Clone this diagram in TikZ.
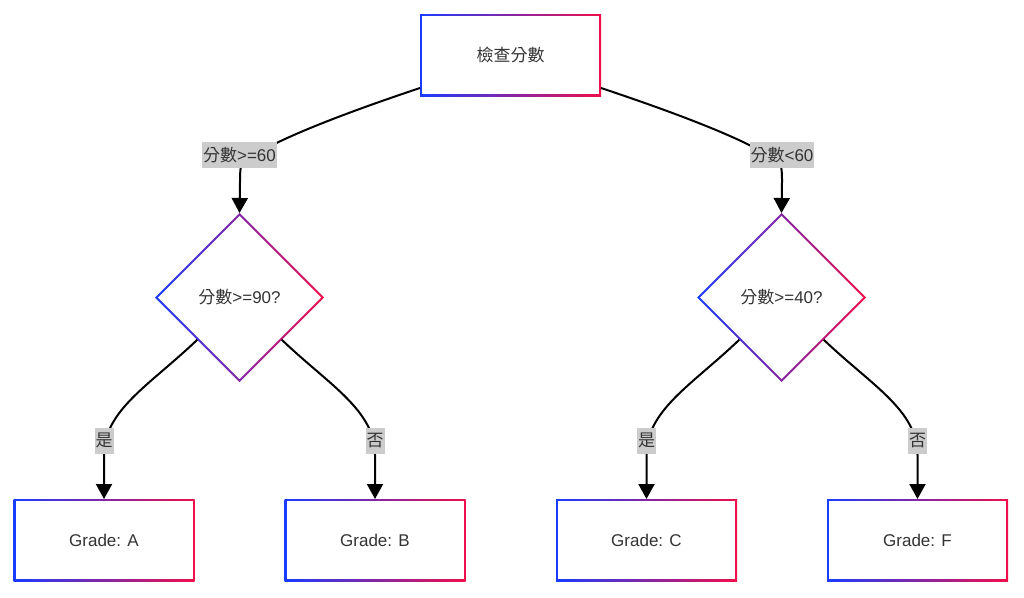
\documentclass[tikz,border=0pt]{standalone}
\usepackage{fontspec}
\setmainfont{Liberation Sans}
\newfontfamily\cjk{Noto Sans CJK TC}
\usetikzlibrary{shapes.geometric,arrows.meta,calc}
\definecolor{gblue}{RGB}{25,60,255}
\definecolor{gred}{RGB}{240,15,75}
\definecolor{txt}{RGB}{51,51,51}
\definecolor{lblbg}{RGB}{204,204,204}
\tikzset{
 gradout/.style={left color=gblue,right color=gred,draw=none,inner sep=0pt,outer sep=0pt},
 boxout/.style={gradout,rectangle,minimum width=181pt,minimum height=82pt},
 boxin/.style={rectangle,fill=white,minimum width=177pt,minimum height=78pt,inner sep=0pt,outer sep=0pt,text=txt,font=\fontsize{17}{20}\selectfont},
 dout/.style={gradout,diamond,aspect=1,minimum width=169pt,minimum height=169pt},
 din/.style={diamond,aspect=1,fill=white,minimum width=163pt,minimum height=163pt,inner sep=0pt,outer sep=0pt,text=txt,font=\fontsize{17}{20}\selectfont},
 lbl/.style={fill=lblbg,text=txt,font=\fontsize{17}{20}\selectfont,inner xsep=1pt,inner ysep=0pt,minimum height=26pt},
 edge/.style={draw=black,line width=2pt,-{Triangle[length=15pt,width=16pt]}}
}
\begin{document}
\begin{tikzpicture}[x=1pt,y=-1pt]
\fill[white] (0,0) rectangle (1024,597);
\useasboundingbox (0,0) rectangle (1024,597);
% nodes
\node[boxout] (top) at (510.5,55) {};
\node[boxin] (topin) at (top) {\cjk 檢查分數};
\node[dout] (d1) at (239.5,297.5) {};
\node[din] (d1in) at (d1) {{\cjk 分數}>=90?};
\node[dout] (d2) at (781.5,297.5) {};
\node[din] (d2in) at (d2) {{\cjk 分數}>=40?};
\node[boxout] (ga) at (104,540) {};
\node[boxin] (gain) at (ga) {Grade: A};
\node[boxout] (gb) at (375,540) {};
\node[boxin] (gbin) at (gb) {Grade: B};
\node[boxout] (gc) at (646.5,540) {};
\node[boxin] (gcin) at (gc) {Grade: C};
\node[boxout] (gf) at (917.5,540) {};
\node[boxin] (gfin) at (gf) {Grade: F};
% edges
\coordinate (s1) at ($(top.south west)+(0,-8)$);
\coordinate (s2) at ($(top.south east)+(0,-8)$);
\draw[edge] (s1) .. controls (330,118) and (255,148) .. (241,166) .. controls (240,172) and (240,176) .. (240,182) -- (d1.north);
\draw[edge] (s2) .. controls (691,118) and (767,148) .. (781,166) .. controls (782,172) and (782,176) .. (782,182) -- (d2.north);
\draw[edge] (d1.south west) .. controls (150,385) and (104,410) .. (104,455) -- (ga.north);
\draw[edge] (d1.south east) .. controls (329,385) and (375,410) .. (375,455) -- (gb.north);
\draw[edge] (d2.south west) .. controls (692,385) and (646.5,410) .. (646.5,455) -- (gc.north);
\draw[edge] (d2.south east) .. controls (871,385) and (917.5,410) .. (917.5,455) -- (gf.north);
% labels
\node[lbl] (l1) at (239.5,155) {{\cjk 分數}>=60};
\node[lbl] (l2) at (782,155) {{\cjk 分數}<60};
\node[lbl] (l3) at (104,440.5) {\cjk 是};
\node[lbl] (l4) at (375,440.5) {\cjk 否};
\node[lbl] (l5) at (646.5,440.5) {\cjk 是};
\node[lbl] (l6) at (917.5,440.5) {\cjk 否};
\end{tikzpicture}
\end{document}
